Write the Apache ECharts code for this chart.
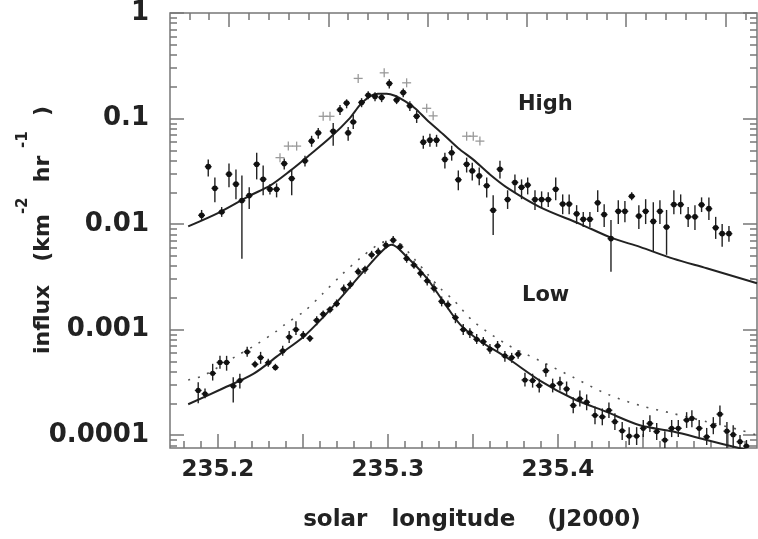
<!DOCTYPE html>
<html><head><meta charset="utf-8">
<script src="https://cdn.jsdelivr.net/npm/echarts@6/dist/echarts.min.js"></script>
<style>html,body{margin:0;padding:0;background:#fff}#c{width:758px;height:539px}</style>
</head><body><div id="c"></div>
<script>
// ---------- data ----------
const highX = [235.1904,235.1943,235.1982,235.2022,235.2065,235.2106,235.2141,235.2184,235.2228,235.2266,235.2306,235.2345,235.2390,235.2434,235.2512,235.2551,235.2590,235.2678,235.2718,235.2757,235.2766,235.2796,235.2845,235.2884,235.2924,235.2963,235.3008,235.3051,235.3090,235.3129,235.3169,235.3208,235.3247,235.3286,235.3335,235.3375,235.3414,235.3463,235.3496,235.3537,235.3581,235.3619,235.3659,235.3704,235.3747,235.3786,235.3822,235.3865,235.3904,235.3943,235.3987,235.4028,235.4066,235.4110,235.4149,235.4188,235.4234,235.4272,235.4312,235.4355,235.4394,235.4434,235.4476,235.4516,235.4561,235.4600,235.4639,235.4682,235.4722,235.4766,235.4806,235.4845,235.4888,235.4928,235.4966,235.5006];
const highY = [0.0121,0.035,0.0218,0.0130,0.0297,0.0239,0.0167,0.0186,0.0369,0.0266,0.0214,0.0214,0.0374,0.0270,0.0397,0.0611,0.0731,0.0758,0.121,0.140,0.0731,0.0927,0.142,0.166,0.162,0.158,0.215,0.150,0.176,0.132,0.105,0.0597,0.0624,0.0624,0.0410,0.0474,0.0263,0.0369,0.0319,0.0286,0.0231,0.0135,0.0331,0.0171,0.0248,0.0223,0.0234,0.0171,0.0171,0.0171,0.0214,0.0155,0.0155,0.0125,0.0111,0.0111,0.0159,0.0123,0.00728,0.0132,0.0132,0.0183,0.0119,0.0132,0.0106,0.0132,0.00937,0.0153,0.0153,0.0117,0.0117,0.0152,0.0140,0.00923,0.00811,0.00811];
const highHi = [0.0136,0.0408,0.0276,0.0145,0.0374,0.0329,0.0289,0.0223,0.0474,0.0358,0.0238,0.0243,0.0417,0.0329,0.0445,0.0686,0.0815,0.0908,0.134,0.152,0.0832,0.108,0.156,0.181,0.177,0.173,0.235,0.166,0.193,0.146,0.118,0.0686,0.0716,0.0701,0.0474,0.0552,0.0322,0.0426,0.0382,0.0343,0.0276,0.0187,0.0399,0.0209,0.0295,0.0265,0.0276,0.0209,0.0204,0.0200,0.0276,0.0191,0.0191,0.0151,0.0130,0.0130,0.0209,0.0154,0.0109,0.0168,0.0165,0.0200,0.0151,0.0172,0.0161,0.0168,0.0136,0.0209,0.0191,0.0145,0.0151,0.0179,0.0179,0.0117,0.0100,0.00958];
const highLo = [0.0109,0.0282,0.0161,0.0117,0.0223,0.0172,0.00469,0.0139,0.0265,0.0187,0.0191,0.0179,0.0329,0.0187,0.0351,0.0540,0.0642,0.0552,0.108,0.125,0.0615,0.0797,0.128,0.152,0.146,0.143,0.193,0.137,0.159,0.118,0.0908,0.0517,0.0540,0.0540,0.0336,0.0399,0.0209,0.0308,0.0259,0.0233,0.0179,0.00788,0.0270,0.0139,0.0200,0.0172,0.0191,0.0136,0.0142,0.0145,0.0168,0.0124,0.0124,0.0100,0.00937,0.00937,0.0130,0.00937,0.00354,0.0100,0.0104,0.0168,0.00898,0.0100,0.00546,0.0100,0.00511,0.0124,0.0124,0.00937,0.00878,0.0130,0.0109,0.00723,0.00608,0.00678];

const grayX = [235.2365,235.2414,235.2463,235.2619,235.2659,235.2825,235.2978,235.3110,235.3228,235.3266,235.3463,235.3502,235.3541];
const grayY = [0.0426,0.0548,0.0548,0.105,0.105,0.240,0.271,0.218,0.125,0.106,0.0680,0.0680,0.0611];

const fitHighX = [235.1825,235.2012,235.2188,235.2306,235.2424,235.2541,235.2659,235.2776,235.2835,235.2894,235.2941,235.2992,235.3041,235.3100,235.3159,235.3228,235.3325,235.3414,235.3502,235.3600,235.3698,235.3894,235.4129,235.4316,235.4482,235.4678,235.4875,235.5171];
const fitHighY = [0.00951,0.0130,0.0186,0.0231,0.0319,0.0454,0.0656,0.101,0.134,0.162,0.1715,0.172,0.1645,0.146,0.125,0.0975,0.0710,0.0523,0.0408,0.0295,0.0223,0.0145,0.01005,0.00739,0.00608,0.0047,0.00381,0.00275];

const lowX = [235.1884,235.1924,235.1969,235.2012,235.2051,235.2090,235.2129,235.2172,235.2218,235.2251,235.2296,235.2338,235.2381,235.2419,235.2459,235.2502,235.2541,235.2581,235.2619,235.2659,235.2698,235.2740,235.2779,235.2825,235.2865,235.2904,235.2943,235.2988,235.3031,235.3071,235.3110,235.3153,235.3192,235.3231,235.3271,235.3316,235.3353,235.3397,235.3443,235.3482,235.3522,235.3561,235.3600,235.3645,235.3688,235.3728,235.3766,235.3806,235.3851,235.3890,235.3929,235.3969,235.4012,235.4051,235.4090,235.4129,235.4169,235.4218,235.4261,235.4300,235.4335,235.4378,235.4419,235.4463,235.4502,235.4541,235.4581,235.4629,235.4669,235.4708,235.4757,235.4788,235.4831,235.4875,235.4914,235.4953,235.4994,235.5031,235.5071,235.5109];
const lowY = [0.000265,0.000246,0.000385,0.000488,0.000488,0.000292,0.000329,0.000615,0.000469,0.000544,0.000485,0.000438,0.000628,0.000851,0.001,0.000888,0.000827,0.001225,0.0014,0.00155,0.00176,0.00243,0.00267,0.00354,0.00373,0.00511,0.00546,0.00631,0.00703,0.00608,0.00472,0.00409,0.00342,0.0029,0.00246,0.00185,0.00172,0.0013,0.001,0.000933,0.000809,0.000768,0.000652,0.000701,0.000564,0.000544,0.000585,0.000333,0.000329,0.000295,0.000408,0.000295,0.00031,0.000274,0.000191,0.000221,0.000205,0.000154,0.000149,0.000172,0.000134,0.00011,0.0000979,0.0000979,0.000116,0.000129,0.000108,0.0000898,0.000116,0.000116,0.000139,0.000144,0.000116,0.0000964,0.000123,0.000158,0.000109,0.000101,0.0000866,0.0000788];
const lowHi = [0.000317,0.000276,0.000474,0.000564,0.000564,0.000353,0.000382,0.000686,0.000506,0.000615,0.000529,0.000474,0.000701,0.000969,0.0012,0.000969,0.000888,0.00134,0.00152,0.00166,0.00193,0.00267,0.00292,0.00386,0.00403,0.00558,0.00595,0.00693,0.00772,0.00663,0.00523,0.00449,0.00378,0.00318,0.00273,0.00206,0.00189,0.00143,0.00113,0.00103,0.000908,0.00085,0.000731,0.00078,0.000628,0.000602,0.000642,0.00039,0.000382,0.000343,0.000474,0.000343,0.000358,0.000322,0.000228,0.000265,0.000243,0.000187,0.000179,0.000204,0.000161,0.000133,0.000119,0.000119,0.000139,0.000154,0.00013,0.000109,0.000139,0.000139,0.000165,0.000172,0.000139,0.000117,0.000148,0.000191,0.000133,0.000124,0.0001,0.0000898];
const lowLo = [0.0002,0.000223,0.000329,0.000426,0.000408,0.000204,0.000276,0.000552,0.000435,0.000474,0.000445,0.000408,0.000564,0.000747,0.000888,0.000815,0.000764,0.0011,0.00128,0.00143,0.00163,0.0022,0.00245,0.00325,0.00339,0.00469,0.005,0.00582,0.00649,0.00558,0.0043,0.00378,0.00311,0.00262,0.00225,0.00166,0.00156,0.00115,0.000888,0.000832,0.000731,0.000701,0.000589,0.000628,0.000495,0.000485,0.000529,0.000289,0.000282,0.000254,0.000358,0.000254,0.000265,0.000238,0.000161,0.000187,0.000172,0.000127,0.000124,0.000145,0.000112,0.0000898,0.0000806,0.0000806,0.0000958,0.000107,0.0000898,0.0000755,0.0000958,0.0000958,0.000117,0.000119,0.0000958,0.0000806,0.000102,0.000124,0.0000723,0.0000723,0.0000755,0.0000693];

const fitLowX = [235.1825,235.2012,235.2208,235.2365,235.2502,235.2619,235.2737,235.2855,235.2972,235.3022,235.3110,235.3228,235.3325,235.3424,235.3541,235.3698,235.3894,235.4090,235.4286,235.4482,235.4678,235.4875,235.5071,235.5171];
const fitLowY = [0.000196,0.000269,0.00038,0.000585,0.000851,0.00131,0.00213,0.00354,0.00567,0.00635,0.0049,0.00308,0.00185,0.00112,0.00078,0.000544,0.000329,0.000221,0.000166,0.000124,0.000108,0.0000898,0.0000751,0.0000693];

const dotLowX = [235.1825,235.1914,235.2110,235.2228,235.2345,235.2394,235.2512,235.2619,235.2728,235.2835,235.2953,235.3031,235.3159,235.3235,235.3316,235.3384,235.3502,235.3698,235.3894,235.4090,235.4286,235.4482,235.4678,235.4875,235.5071,235.5171];
const dotLowY = [0.000333,0.000366,0.000564,0.000726,0.000969,0.00112,0.00151,0.00221,0.00331,0.00472,0.00653,0.00703,0.00459,0.00332,0.00239,0.00192,0.0012,0.000726,0.000506,0.000353,0.000246,0.000191,0.00016,0.000134,0.000112,0.0001];

// ---------- tick values ----------
const xLabelValues = [235.2, 235.3, 235.4];
const xMajorTicks = [235.2, 235.25, 235.3, 235.35, 235.4, 235.45, 235.5];
const xMinorTicks = [235.18,235.19,235.21,235.22,235.23,235.24,235.26,235.27,235.28,235.29,235.31,235.32,235.33,235.34,235.36,235.37,235.38,235.39,235.41,235.42,235.43,235.44,235.46,235.47,235.48,235.49,235.51];
// top frame carries its own (unlabelled) scale
const topMajorTicks = [0, 1, 2, 3, 4, 5];
const topMinorTicks = [-0.4,-0.2,0.2,0.4,0.6,0.8,1.2,1.4,1.6,1.8,2.2,2.4,2.6,2.8,3.2,3.4,3.6,3.8,4.2,4.4,4.6,4.8,5.2];
const yLabelValues = [1, 0.1, 0.01, 0.001, 0.0001];
const yMinorTicks = [0.00008,0.00009,
  0.0002,0.0003,0.0004,0.0005,0.0006,0.0007,0.0008,0.0009,
  0.002,0.003,0.004,0.005,0.006,0.007,0.008,0.009,
  0.02,0.03,0.04,0.05,0.06,0.07,0.08,0.09,
  0.2,0.3,0.4,0.5,0.6,0.7,0.8,0.9];

const X_MIN = 235.1718, X_MAX = 235.5171, TOP_MIN = -0.594, TOP_MAX = 5.317, Y_MIN = 7.55e-5, Y_MAX = 1;
const X_ERR = 0.002;
const AX = '#777';
const FONT = 'DejaVu Sans';

function xAxisDef(position, ticks, len, labels, min, max) {
  return {
    type: 'value', position, min, max,
    axisLine: {show: false, onZero: false}, splitLine: {show: false},
    axisTick: {show: true, inside: true, length: len, customValues: ticks, lineStyle: {color: AX, width: 1.5}},
    axisLabel: labels ? {show: true, customValues: labels, margin: 11, color: '#222', fontFamily: FONT, fontWeight: 'bold', fontSize: 23,
      formatter: v => Number(v).toFixed(1)} : {show: false}
  };
}
function yAxisDef(position, ticks, len, labels) {
  return {
    type: 'log', logBase: 10, position, min: Y_MIN, max: Y_MAX,
    axisLine: {show: false, onZero: false}, splitLine: {show: false},
    axisTick: {show: true, inside: true, length: len, customValues: ticks, lineStyle: {color: AX, width: 1.5}},
    axisLabel: labels ? {show: true, customValues: labels, margin: 21, color: '#222', fontFamily: FONT, fontWeight: 'bold', fontSize: 26,
      formatter: v => String(Number(Number(v).toPrecision(1)))} : {show: false}
  };
}

function errRender(dotR) {
  return function (params, api) {
    const x = api.value(0), y = api.value(1), lo = api.value(2), hi = api.value(3);
    const c = api.coord([x, y]);
    const t = api.coord([x, hi]), b = api.coord([x, lo]);
    const l = api.coord([x - X_ERR, y]), r = api.coord([x + X_ERR, y]);
    const ls = {stroke: '#222', lineWidth: 1.4};
    return {type: 'group', children: [
      {type: 'line', shape: {x1: c[0], y1: t[1], x2: c[0], y2: b[1]}, style: ls},
      {type: 'line', shape: {x1: l[0], y1: c[1], x2: r[0], y2: c[1]}, style: ls},
      {type: 'circle', shape: {cx: c[0], cy: c[1], r: dotR}, style: {fill: '#111'}}
    ]};
  };
}
function plusRender(params, api) {
  const c = api.coord([api.value(0), api.value(1)]);
  const h = 4.5, st = {stroke: '#9a9a9a', lineWidth: 1.3};
  return {type: 'group', children: [
    {type: 'line', shape: {x1: c[0] - h, y1: c[1], x2: c[0] + h, y2: c[1]}, style: st},
    {type: 'line', shape: {x1: c[0], y1: c[1] - h, x2: c[0], y2: c[1] + h}, style: st}
  ]};
}
const zip2 = (a, b) => a.map((v, i) => [v, b[i]]);
const zip4 = (a, b, c, d) => a.map((v, i) => [v, b[i], c[i], d[i]]);

const chart = echarts.init(document.getElementById('c'), null, {renderer: 'canvas'});
chart.setOption({
  animation: false,
  backgroundColor: '#fff',
  grid: {left: 170, top: 9, right: 1, bottom: 91, show: true, borderColor: AX, borderWidth: 1.5, backgroundColor: 'transparent'},
  xAxis: [
    xAxisDef('bottom', xMajorTicks, 14, xLabelValues, X_MIN, X_MAX),
    xAxisDef('bottom', xMinorTicks, 7, null, X_MIN, X_MAX),
    xAxisDef('top', topMajorTicks, 14, null, TOP_MIN, TOP_MAX),
    xAxisDef('top', topMinorTicks, 7, null, TOP_MIN, TOP_MAX)
  ],
  yAxis: [
    yAxisDef('left', yLabelValues, 14, yLabelValues),
    yAxisDef('left', yMinorTicks, 7, null),
    yAxisDef('right', yLabelValues, 14, null),
    yAxisDef('right', yMinorTicks, 7, null)
  ],
  graphic: [
    {type: 'text', left: 518, top: 94, style: {text: 'High', font: 'bold 21px "DejaVu Sans"', fill: '#222'}},
    {type: 'text', left: 522, top: 285, style: {text: 'Low', font: 'bold 21px "DejaVu Sans"', fill: '#222'}},
    {type: 'text', x: 472, y: 520, style: {text: 'solar   longitude    (J2000)', font: 'bold 23px "DejaVu Sans"', fill: '#222', align: 'center', verticalAlign: 'middle'}},
    {type: 'text', x: 43, y: 230, rotation: Math.PI / 2,
      style: {text: 'influx   (km{s|-2}  hr {s|-1}  )', fontFamily: FONT, fontWeight: 'bold', fontSize: 22, fill: '#222',
        lineHeight: 54, align: 'center', verticalAlign: 'middle',
        rich: {s: {fontFamily: FONT, fontWeight: 'bold', fontSize: 15, lineHeight: 16, verticalAlign: 'top', fill: '#222'}}}}
  ],
  series: [
    {type: 'line', name: 'fitHigh', data: zip2(fitHighX, fitHighY), smooth: 0.3, showSymbol: false,
      lineStyle: {color: '#222', width: 2}, z: 3},
    {type: 'line', name: 'fitLow', data: zip2(fitLowX, fitLowY), smooth: 0.3, showSymbol: false,
      lineStyle: {color: '#222', width: 2}, z: 3},
    {type: 'line', name: 'dotLow', data: zip2(dotLowX, dotLowY), smooth: 0.3, showSymbol: false,
      lineStyle: {color: '#555', width: 1.6, type: [2, 8]}, z: 3},
    {type: 'custom', name: 'gray', data: zip2(grayX, grayY), renderItem: plusRender, clip: true, z: 4},
    {type: 'custom', name: 'high', data: zip4(highX, highY, highLo, highHi), renderItem: errRender(2.8), clip: true, z: 5},
    {type: 'custom', name: 'low', data: zip4(lowX, lowY, lowLo, lowHi), renderItem: errRender(2.6), clip: true, z: 5}
  ]
});
</script>
</body></html>
